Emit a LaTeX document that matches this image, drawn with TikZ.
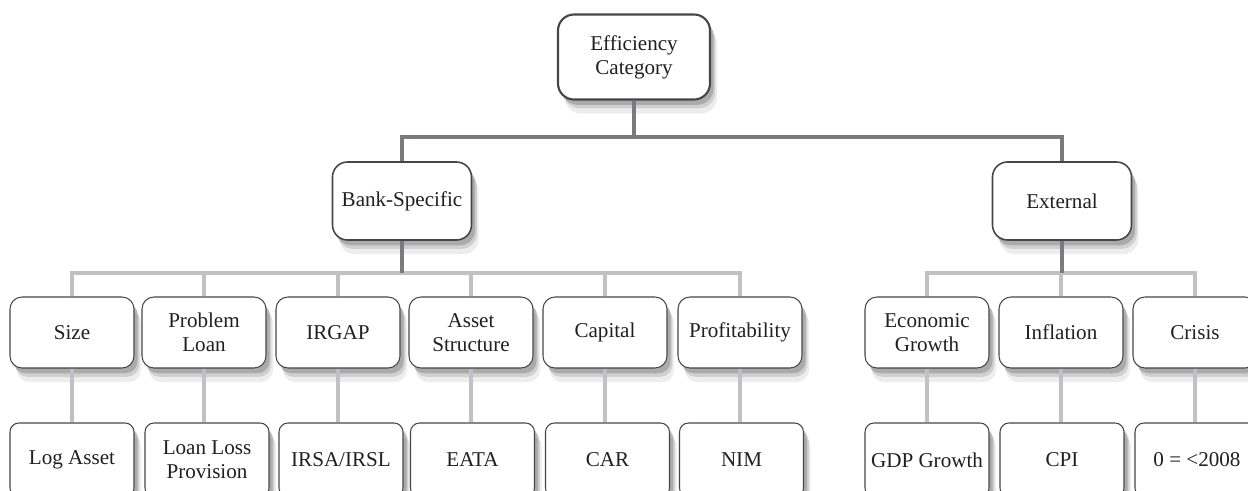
\documentclass[tikz,border=0pt]{standalone}
\usepackage{fontspec}
\setmainfont{Liberation Serif}
\usetikzlibrary{shadows}
\definecolor{darkline}{RGB}{122,122,127}
\definecolor{lightline}{RGB}{192,192,197}
\definecolor{boxline}{RGB}{70,70,72}
\definecolor{ink}{RGB}{35,31,32}
\begin{document}
\begin{tikzpicture}
          [font=\fontsize{12}{13.5}\selectfont,
          shadowed/.style={drop shadow={shadow xshift=2pt,shadow yshift=-3pt,opacity=.18,fill=black},
                           drop shadow={shadow xshift=3pt,shadow yshift=-5pt,opacity=.12,fill=black},
                           drop shadow={shadow xshift=4pt,shadow yshift=-8pt,opacity=.07,fill=black}},
          box/.style={shape=rectangle,rounded corners=0.24cm,draw=boxline,fill=white,text=ink,
                      minimum width=2.48cm,minimum height=1.42cm,align=center,line width=0.6pt,inner sep=1pt,shadowed},
          leaf/.style={box,rounded corners=0.18cm,minimum height=1.48cm},
          group/.style={box,minimum width=2.78cm,minimum height=1.56cm,line width=0.9pt,rounded corners=0.3cm},
          root/.style={box,minimum width=3.04cm,minimum height=1.70cm,line width=1.2pt,rounded corners=0.32cm},
          darkbar/.style={draw=darkline,line width=2.8pt},
          lightbar/.style={draw=lightline,line width=2.8pt}]

          \useasboundingbox (0,0) rectangle (24.96,-9.82);

          \coordinate (topbar) at (0,-2.74);
          \coordinate (midbar) at (0,-5.46);

            \node (eff) [root] at (12.68,-1.14) {Efficiency\\Category};
            \node (bank) [group] at (8.04,-4.02) {Bank-Specific};
            \node (ext) [group] at (21.24,-4.02) {External};

            \node (size) [box] at (1.44,-6.65) {Size};
            \node (prob) [box] at (4.08,-6.65) {Problem\\Loan};
            \node (irgap) [box] at (6.76,-6.65) {IRGAP};
            \node (asset) [box] at (9.42,-6.65) {Asset\\Structure};
            \node (capital) [box] at (12.10,-6.65) {Capital};
            \node (profit) [box] at (14.80,-6.65) {Profitability};
            \node (econ) [box] at (18.54,-6.65) {Economic\\Growth};
            \node (infl) [box] at (21.22,-6.65) {Inflation};
            \node (crisis) [box] at (23.90,-6.65) {Crisis};

            \node (logasset) [leaf] at (1.44,-9.20) {Log Asset};
            \node (llp) [leaf] at (4.14,-9.20) {Loan Loss\\Provision};
            \node (irsa) [leaf] at (6.82,-9.20) {IRSA/IRSL};
            \node (eata) [leaf] at (9.45,-9.20) {EATA};
            \node (car) [leaf] at (12.15,-9.20) {CAR};
            \node (nim) [leaf] at (14.83,-9.20) {NIM};
            \node (gdp) [leaf] at (18.54,-9.20) {GDP Growth};
            \node (cpi) [leaf] at (21.24,-9.20) {CPI};
            \node (dummy) [leaf] at (23.94,-9.20) {0 = <2008};

          \draw [darkbar] (eff.south) -- (eff.south |- topbar);
          \draw [darkbar] (bank.north) |- (ext.north |- topbar) -- (ext.north);

          \draw [lightbar] (size.north) |- (profit.north |- midbar) -- (profit.north);
          \draw [lightbar] (econ.north) |- (crisis.north |- midbar) -- (crisis.north);
          \foreach \n in {prob,irgap,asset,capital,infl}
            \draw [lightbar] (\n.north) -- (\n.north |- midbar);
          \draw [darkbar] (bank.south) -- (bank.south |- midbar);
          \draw [darkbar] (ext.south) -- (ext.south |- midbar);

          \foreach \a/\b in {size/logasset,prob/llp,irgap/irsa,asset/eata,capital/car,
                             profit/nim,econ/gdp,infl/cpi,crisis/dummy}
            \draw [lightbar] (\a.south) -- (\a.south |- \b.north);

        \end{tikzpicture}
\end{document}
